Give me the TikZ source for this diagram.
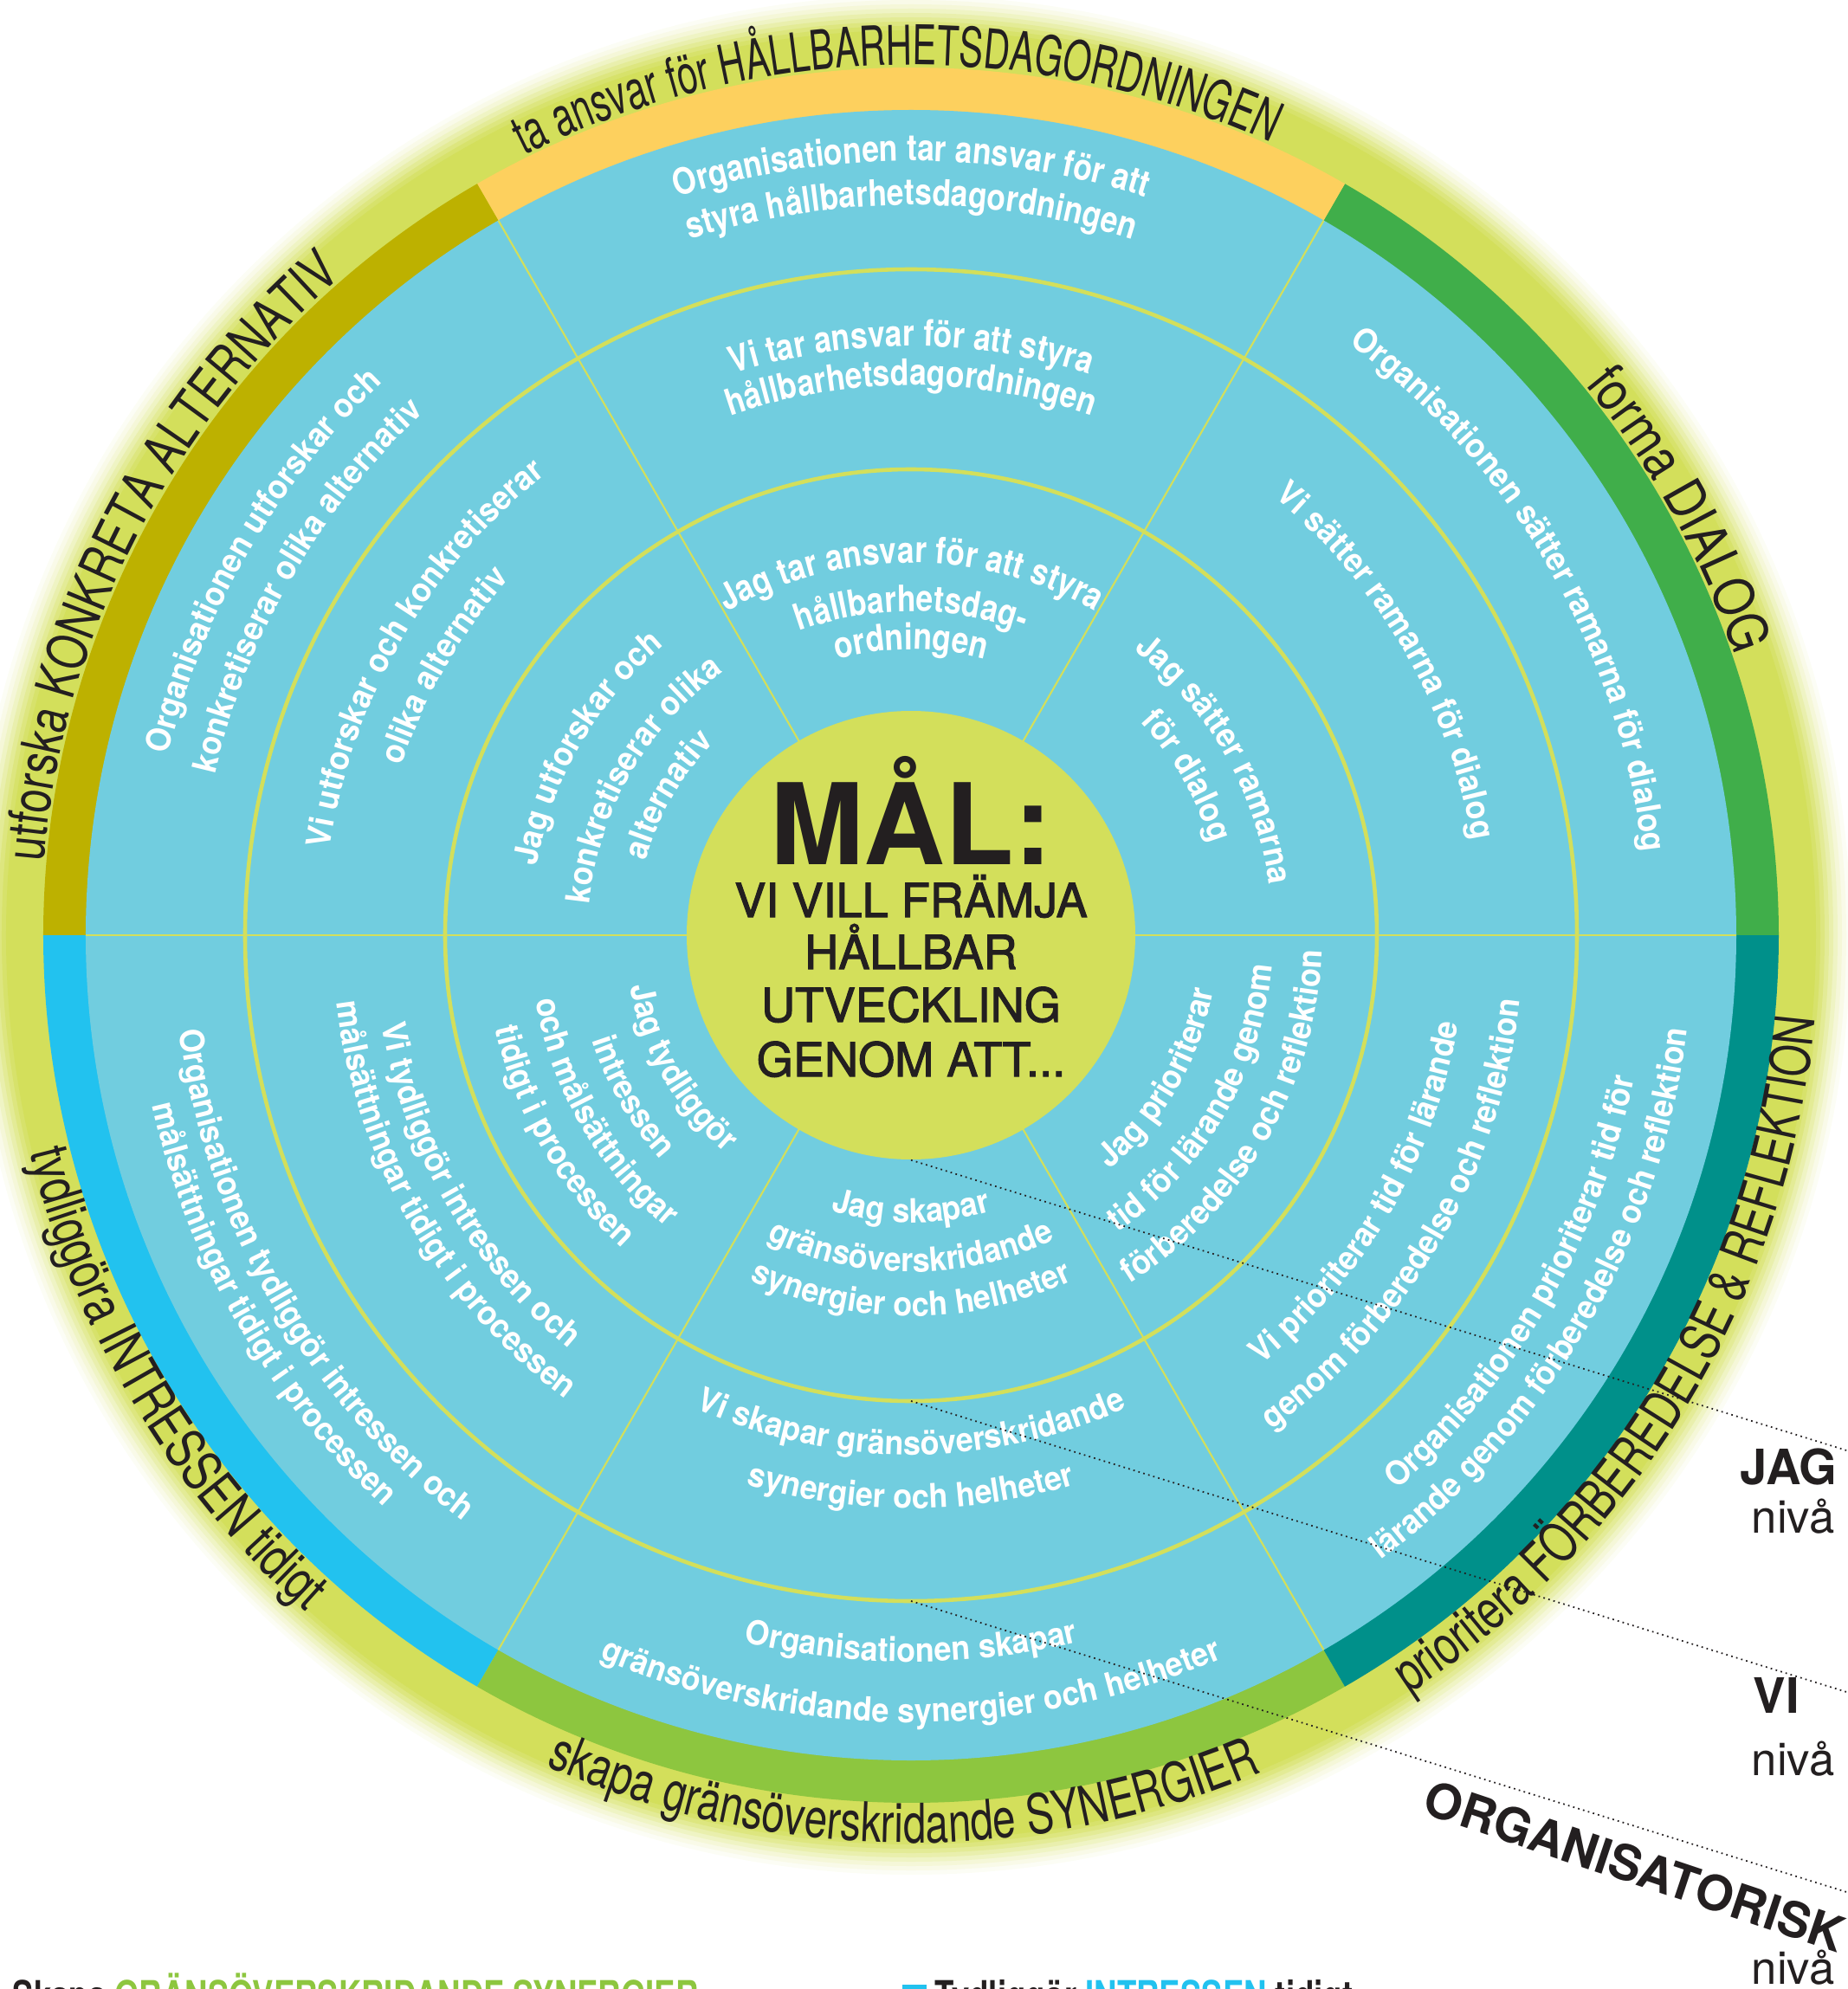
\documentclass[tikz,border=0pt]{standalone}
\usepackage{fontspec}
\setmainfont{TeX Gyre Heros}
\newfontfamily\ringfamA[FakeStretch=0.66]{TeX Gyre Heros}
\newfontfamily\ringfamB[FakeStretch=0.75]{TeX Gyre Heros}
\newfontfamily\ringfamC[FakeStretch=0.78]{TeX Gyre Heros}
\newfontfamily\ringfamD[FakeStretch=0.86]{TeX Gyre Heros}
\newfontfamily\topfam[FakeStretch=0.84]{TeX Gyre Heros}
\newfontfamily\secfam[FakeStretch=0.93]{TeX Gyre Heros}
\newfontfamily\medfam[FakeBold=2]{TeX Gyre Heros}
\newfontfamily\legendfam[FakeStretch=0.8]{TeX Gyre Heros}
\usetikzlibrary{decorations.text}

\definecolor{limering}{HTML}{D3DF5B}
\definecolor{skyfill}{HTML}{71CDDF}
\definecolor{oliveband}{HTML}{BDB100}
\definecolor{orangeband}{HTML}{FDD05E}
\definecolor{greenband}{HTML}{40AE4A}
\definecolor{tealband}{HTML}{00908A}
\definecolor{leafband}{HTML}{8DC63F}
\definecolor{blueband}{HTML}{22C2EF}
\definecolor{inkblack}{HTML}{231F20}

\def\ringA{\ringfamA\fontsize{18}{21}\selectfont\color{inkblack}}
\def\ringB{\ringfamB\fontsize{18}{21}\selectfont\color{inkblack}}
\def\ringC{\ringfamC\fontsize{18}{21}\selectfont\color{inkblack}}
\def\ringD{\ringfamD\fontsize{18}{21}\selectfont\color{inkblack}}
\def\toptxt{\topfam\bfseries\fontsize{12}{14}\selectfont\color{white}}
\def\sectxt{\secfam\bfseries\fontsize{11}{13}\selectfont\color{white}}

\def\cwtext(#1:#2)#3{\path[decorate, decoration={text along path, text align=center, text={#3}}] ({#1+60}:#2) arc[start angle=#1+60, end angle=#1-60, radius=#2];}
\def\ccwtext(#1:#2)#3{\path[decorate, decoration={text along path, text align=center, text={#3}}] ({#1-60}:#2) arc[start angle=#1-60, end angle=#1+60, radius=#2];}

\tikzset{
	goalword/.style={anchor=base, inner sep=0pt, text=inkblack, font=\medfam\fontsize{15.4}{17}\selectfont},
	levelword/.style={anchor=west, inner sep=0pt, text=inkblack, font=\bfseries\fontsize{16}{18}\selectfont},
	levelnote/.style={anchor=west, inner sep=0pt, text=inkblack, font=\fontsize{15}{17}\selectfont},
	levelline/.style={inkblack, line width=0.5pt, dash pattern=on 0.5pt off 1.2pt},
	legendtext/.style={anchor=base west, inner sep=0pt, text=inkblack, font=\legendfam\bfseries\fontsize{13}{15}\selectfont}
}

\begin{document}
\begin{tikzpicture}
			%%%%% START %%%%%
			\useasboundingbox (-10.52,-12.17) rectangle (10.82,10.80);
			
			\foreach \rr/\pp in {10.85/6,10.8/14,10.75/24,10.7/36,10.65/50,10.6/64,10.55/78,10.5/90} {\fill[limering!\pp] (0,0) circle (\rr);}
			\fill[limering] (0,0) circle (10.45);
			
			\fill[greenband] (0,0) -- (0:10.02) arc[start angle=0, end angle=60, radius=10.02] -- cycle;
			\fill[orangeband] (0,0) -- (60:10.02) arc[start angle=60, end angle=120, radius=10.02] -- cycle;
			\fill[oliveband] (0,0) -- (120:10.02) arc[start angle=120, end angle=180, radius=10.02] -- cycle;
			\fill[blueband] (0,0) -- (180:10.02) arc[start angle=180, end angle=240, radius=10.02] -- cycle;
			\fill[leafband] (0,0) -- (240:10.02) arc[start angle=240, end angle=300, radius=10.02] -- cycle;
			\fill[tealband] (0,0) -- (300:10.02) arc[start angle=300, end angle=360, radius=10.02] -- cycle;
			\fill[skyfill] (0,0) circle (9.53);
			
			\foreach \a in {0,60,...,300} {\draw[limering, line width=0.6pt] (0,0) -- (\a:9.53);}
			\draw[limering, line width=1.3pt] (0,0) circle (5.38);
			\draw[limering, line width=1.3pt] (0,0) circle (7.69);
			
			\node[circle, fill=limering, minimum size=5.18cm, inner sep=0pt] (goal) at (0,0) {};
			\node[anchor=base, inner sep=0pt, text=inkblack, font=\bfseries\fontsize{37}{40}\selectfont] (mal) at (0,0.82) {MÅL:};
			\node[goalword] (goala) at (0,0.21) {VI VILL FRÄMJA};
			\node[goalword] (goalb) at (0,-0.39) {HÅLLBAR};
			\node[goalword] (goalc) at (0,-1.00) {UTVECKLING};
			\node[goalword] (goald) at (0,-1.63) {GENOM ATT...};
			
			% ring labels
			\cwtext(91:10.05){|\ringA|ta ansvar för HÅLLBARHETSDAGORDNINGEN}
			\cwtext(29:10.05){|\ringD|forma DIALOG}
			\ccwtext(-31:10.48){|\ringB|prioritera FÖRBEREDELSE {\&} REFLEKTION}
			\ccwtext(269.5:10.48){|\ringB|skapa gränsöverskridande SYNERGIER}
			\ccwtext(211:10.48){|\ringC|tydliggöra INTRESSEN tidigt}
			\cwtext(153:10.05){|\ringC|utforska KONKRETA ALTERNATIV}
			
			% top
			\cwtext(90:8.94){|\toptxt|Organisationen tar ansvar för att}
			\cwtext(90:8.43){|\toptxt|styra hållbarhetsdagordningen}
			\cwtext(90:6.80){|\toptxt|Vi tar ansvar för att styra}
			\cwtext(90:6.35){|\toptxt|hållbarhetsdagordningen}
			\cwtext(90:4.30){|\toptxt|Jag tar ansvar för att styra}
			\cwtext(90:3.74){|\toptxt|hållbarhetsdag-}
			\cwtext(90:3.30){|\toptxt|ordningen}
			
			% upper right
			\cwtext(30:8.50){|\sectxt|Organisationen sätter ramarna för dialog}
			\cwtext(30:6.57){|\sectxt|Vi sätter ramarna för dialog}
			\cwtext(30:4.18){|\sectxt|Jag sätter ramarna}
			\cwtext(30:3.62){|\sectxt|för dialog}
			
			% upper left
			\cwtext(150:8.83){|\sectxt|Organisationen utforskar och}
			\cwtext(150:8.25){|\sectxt|konkretiserar olika alternativ}
			\cwtext(150:6.79){|\sectxt|Vi utforskar och konkretiserar}
			\cwtext(150:6.20){|\sectxt|olika alternativ}
			\cwtext(150:4.40){|\sectxt|Jag utforskar och}
			\cwtext(150:3.73){|\sectxt|konkretiserar olika}
			\cwtext(150:3.18){|\sectxt|alternativ}
			
			% lower right
			\ccwtext(-30:3.55){|\sectxt|Jag prioriterar}
			\ccwtext(-30:4.18){|\sectxt|tid för lärande genom}
			\ccwtext(-30:4.75){|\sectxt|förberedelse och reflektion}
			\ccwtext(-30:6.40){|\sectxt|Vi prioriterar tid för lärande}
			\ccwtext(-30:7.07){|\sectxt|genom förberedelse och reflektion}
			\ccwtext(-30:8.51){|\sectxt|Organisationen prioriterar tid för}
			\ccwtext(-30:9.03){|\sectxt|lärande genom förberedelse och reflektion}
			
			% bottom
			\ccwtext(270:3.32){|\sectxt|Jag skapar}
			\ccwtext(270:3.89){|\sectxt|gränsöverskridande}
			\ccwtext(270:4.40){|\sectxt|synergier och helheter}
			\ccwtext(270:6.00){|\sectxt|Vi skapar gränsöverskridande}
			\ccwtext(270:6.62){|\sectxt|synergier och helheter}
			\ccwtext(270:8.39){|\sectxt|Organisationen skapar}
			\ccwtext(270:9.09){|\sectxt|gränsöverskridande synergier och helheter}
			
			% lower left
			\ccwtext(210:3.30){|\sectxt|Jag tydliggör}
			\ccwtext(210:3.88){|\sectxt|intressen}
			\ccwtext(210:4.40){|\sectxt|och målsättningar}
			\ccwtext(210:4.92){|\sectxt|tidigt i processen}
			\ccwtext(210:6.20){|\sectxt|Vi tydliggör intressen och}
			\ccwtext(210:6.68){|\sectxt|målsättningar tidigt i processen}
			\ccwtext(210:8.52){|\sectxt|Organisationen tydliggör intressen och}
			\ccwtext(210:8.98){|\sectxt|målsättningar tidigt i processen}
			
			% levels
			\coordinate (vistart) at (0,-5.38);
			\coordinate (orgstart) at (0,-7.69);
			\coordinate (jagend) at (10.9,-5.98);
			\coordinate (viend) at (10.9,-8.77);
			\coordinate (orgend) at (10.9,-11.08);
			\draw[levelline] (goal.south) -- (jagend);
			\draw[levelline] (vistart) -- (viend);
			\draw[levelline] (orgstart) -- (orgend);
			
			\node[levelword] (jag) at (9.57,-6.14) {JAG};
			\node[levelnote] (jagniva) at (9.70,-6.71) {nivå};
			\node[levelword] (vi) at (9.72,-8.78) {VI};
			\node[levelnote] (viniva) at (9.70,-9.51) {nivå};
			\node[levelword, anchor=center, rotate=-18.5] (org) at (8.36,-10.75) {ORGANISATORISK};
			\node[levelnote] (orgniva) at (9.70,-11.92) {nivå};
			
			\node[legendtext] (legendleft) at (-10.38,-12.40) {Skapa \textcolor{leafband}{GRÄNSÖVERSKRIDANDE SYNERGIER}};
			\node[legendtext] (legendright) at (-0.11,-12.40) {\textcolor{blueband}{\rule{0.28cm}{0.28cm}} Tydliggör \textcolor{blueband}{INTRESSEN} tidigt};
			
			%%%%% END %%%%%
\end{tikzpicture}
\end{document}
